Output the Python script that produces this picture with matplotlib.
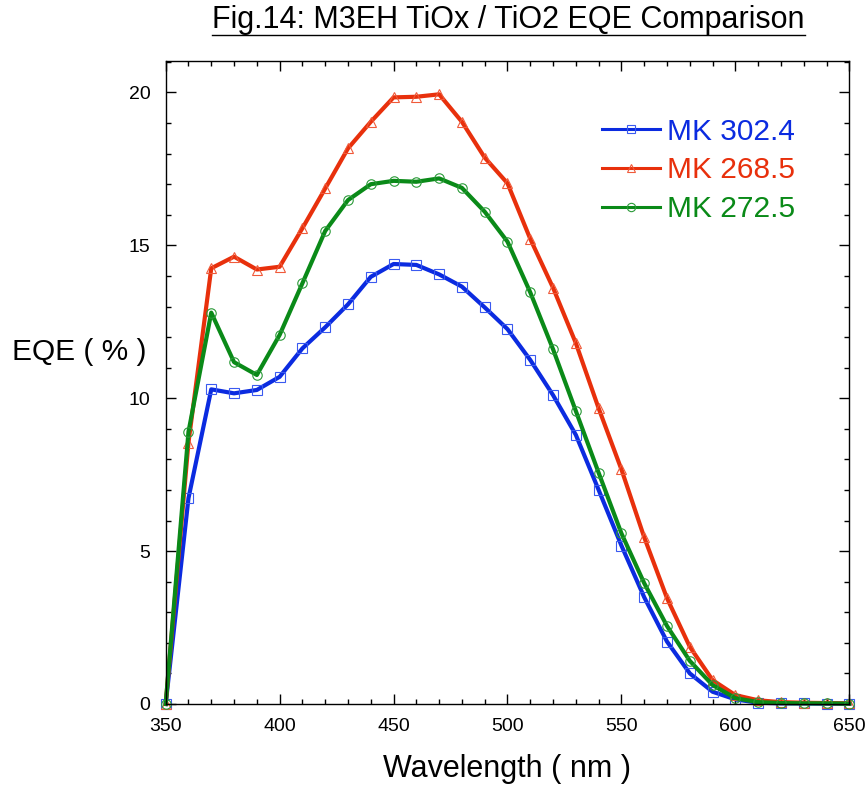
import matplotlib
matplotlib.use("Agg")
import matplotlib.pyplot as plt
from matplotlib.ticker import MultipleLocator

plt.rcParams['font.family'] = ['Liberation Sans', 'DejaVu Sans']

wavelength = [350, 360, 370, 380, 390, 400, 410, 420, 430, 440, 450, 460, 470, 480, 490, 500,
              510, 520, 530, 540, 550, 560, 570, 580, 590, 600, 610, 620, 630, 640, 650]

mk_302_4 = [0.0, 6.73, 10.29, 10.16, 10.27, 10.70, 11.63, 12.32, 13.07, 13.97, 14.39, 14.36, 14.05,
            13.65, 12.97, 12.26, 11.25, 10.10, 8.80, 7.00, 5.18, 3.49, 2.04, 1.00, 0.40, 0.15,
            0.04, 0.02, 0.02, 0.01, 0.01]
mk_268_5 = [0.0, 8.55, 14.25, 14.63, 14.21, 14.30, 15.56, 16.86, 18.17, 19.04, 19.84, 19.86, 19.94,
            19.04, 17.87, 17.03, 15.21, 13.61, 11.80, 9.67, 7.67, 5.45, 3.46, 1.87, 0.78, 0.29,
            0.12, 0.06, 0.04, 0.03, 0.02]
mk_272_5 = [0.0, 8.90, 12.80, 11.18, 10.76, 12.07, 13.76, 15.47, 16.48, 17.00, 17.11, 17.08, 17.19,
            16.88, 16.10, 15.12, 13.46, 11.60, 9.58, 7.56, 5.58, 3.95, 2.55, 1.41, 0.62, 0.19,
            0.06, 0.03, 0.02, 0.02, 0.01]

labels = ["MK 302.4", "MK 268.5", "MK 272.5"]
colors = ["#0b2be0", "#e8300c", "#0a8a18"]
edge_colors = ["#3a5af0", "#f05a3a", "#2a9a38"]
markers = ["s", "^", "o"]

fig = plt.figure(figsize=(8.67, 7.87), dpi=100)
ax = fig.add_axes([0.1911, 0.1055, 0.7885, 0.817])

for y, lab, c, ec, m in zip([mk_302_4, mk_268_5, mk_272_5], labels, colors, edge_colors, markers):
    ax.plot(wavelength, y, color=c, lw=3.0, marker=m, markersize=6.8, clip_on=False,
            markerfacecolor='none', markeredgecolor=ec, markeredgewidth=0.8, label=lab)

ax.set_xlim(350, 650)
ax.set_ylim(0, 21.03)
ax.xaxis.set_major_locator(MultipleLocator(50))
ax.xaxis.set_minor_locator(MultipleLocator(10))
ax.yaxis.set_major_locator(MultipleLocator(5))
ax.yaxis.set_minor_locator(MultipleLocator(1))
ax.tick_params(which='both', direction='in', top=True, right=True, labelsize=14, width=1.0)
ax.tick_params(which='major', length=7.5)
ax.tick_params(which='minor', length=3.8)
ax.tick_params(axis='x', pad=10)
ax.tick_params(axis='y', pad=11)
for s in ax.spines.values():
    s.set_linewidth(1.0)

ax.set_xlabel("Wavelength ( nm )", fontsize=22)
ax.xaxis.set_label_coords(0.5, -0.078)
fig.text(0.014, 0.553, "EQE ( % )", fontsize=21.5, ha='left', va='center')

fig.text(0.5865, 0.9746, "Fig.14: M3EH TiOx / TiO2 EQE Comparison", fontsize=22,
         ha='center', va='center')
# underline
fig.add_artist(plt.Line2D([0.2445, 0.9285], [0.9555, 0.9555], color='black', lw=1.0))

leg = ax.legend(loc='upper left', bbox_to_anchor=(0.638, 0.912), frameon=False, fontsize=21.5,
                handlelength=1.95, handletextpad=0.22, labelspacing=0.36, borderaxespad=0,
                borderpad=0, labelcolor='linecolor')
for ln in leg.get_lines():
    ln.set_linewidth(2.2)
    ln.set_markersize(6)

fig.savefig("out.png", dpi=100)
